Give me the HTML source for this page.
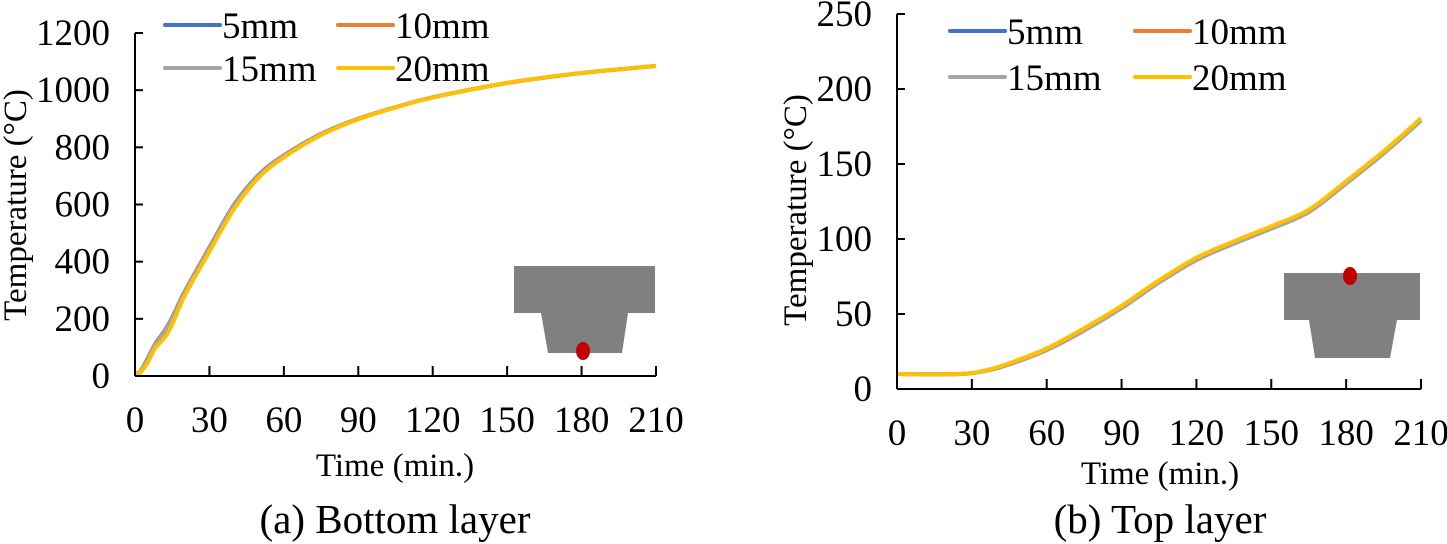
<!DOCTYPE html>
<html><head><meta charset="utf-8"><style>
body{margin:0;background:#fff;}
svg{display:block;font-family:"Liberation Serif",serif;}
</style></head><body>
<svg id="svg" width="1447" height="544"></svg>
<script>
const times=[0,2,5,8,12,15,20,30,40,50,60,75,90,105,120,150,180,210];
const bottom5=[10,15,60,110,160,205,295,450,600,705,772,847,900,940,975,1025,1060,1085];
const bottom10=[10,15,58,108,158,203,293,448,598,703,771,846,900,940,975,1025,1060,1085];
const bottom15=[10,14,56,105,155,200,290,445,595,701,770,845,899,940,975,1025,1060,1085];
const bottom20=[10,12,45,95,135,180,280,435,585,695,765,843,898,939,974,1025,1060,1085];
const topT=[0,25,35,45,60,75,90,105,120,135,150,165,180,195,210];
const top5=[10,10,12,16.5,26,39,54,71,86,97,107,118,137,157,179];
const top10=[10,10,12,16.5,26,39,54,71,86,97,107,118,137,157,179];
const top15=[10,10,12,16.5,26,39,54,71,86,97,107,118,137,157,179];
const top20=[10,10,12.3,17.2,27,40.5,55.5,72.5,87.5,98.5,108.5,119.5,138.5,158.5,180.5];
const xTicks=[0,30,60,90,120,150,180,210];
const yTicksA=[0,200,400,600,800,1000,1200];
const yTicksB=[0,50,100,150,200,250];
const seriesNames=["5mm","10mm","15mm","20mm"];
const colors=["#4472c4","#ed7d31","#a5a5a5","#ffc000"];

const NS="http://www.w3.org/2000/svg";
const svg=document.getElementById('svg');
function mk(tag,attrs,parent){const e=document.createElementNS(NS,tag);for(const k in attrs)e.setAttribute(k,attrs[k]);(parent||svg).appendChild(e);return e;}
function txt(s,x,y,size,anchor,parent){const t=mk('text',{x:x,y:y,'font-size':size,'text-anchor':anchor||'middle',fill:'#000'},parent);t.textContent=s;return t;}
function smooth(pts){
  let d='M'+pts[0][0].toFixed(1)+','+pts[0][1].toFixed(1);
  for(let i=0;i<pts.length-1;i++){
    const p0=pts[Math.max(0,i-1)],p1=pts[i],p2=pts[i+1],p3=pts[Math.min(pts.length-1,i+2)];
    const c1=[p1[0]+(p2[0]-p0[0])/6,p1[1]+(p2[1]-p0[1])/6];
    const c2=[p2[0]-(p3[0]-p1[0])/6,p2[1]-(p3[1]-p1[1])/6];
    d+=` C${c1[0].toFixed(1)},${c1[1].toFixed(1)} ${c2[0].toFixed(1)},${c2[1].toFixed(1)} ${p2[0].toFixed(1)},${p2[1].toFixed(1)}`;
  }
  return d;
}

function chart(cfg){
  const g=mk('g',{});
  
  
  const sx=v=>cfg.x0+(v-0)/210*(cfg.x1-cfg.x0);
  const sy=v=>cfg.y0-(v/cfg.ymax)*(cfg.y0-cfg.y1);
  const ins=mk('g',{},g);
  
  
  const I=cfg.inset;
  mk('rect',{x:I.rx0,y:I.ry0,width:I.rx1-I.rx0,height:I.ry1-I.ry0,fill:'#808080'},ins);
  mk('polygon',{points:`${I.tx0},${I.ry1} ${I.tx1},${I.ry1} ${I.bx1},${I.by} ${I.bx0},${I.by}`,fill:'#808080'},ins);
  const dot=mk('ellipse',{cx:I.dx,cy:I.dy,rx:7,ry:9,fill:'#c00000'},ins);
  
  
  cfg.series.forEach((vals,i)=>{
    const pts=vals.map((v,j)=>[sx(cfg.t[j]),sy(v)]);
    const p=mk('path',{d:smooth(pts),fill:'none',stroke:colors[i],'stroke-width':4,'stroke-linejoin':'round'},g);
    
    
  });
  const ax=mk('g',{stroke:'#000','stroke-width':2},g);
  
  
  mk('line',{x1:cfg.x0,y1:cfg.y0,x2:cfg.x1,y2:cfg.y0},ax);
  mk('line',{x1:cfg.x0,y1:cfg.y0,x2:cfg.x0,y2:sy(cfg.ymax)},ax);
  xTicks.forEach(v=>{mk('line',{x1:sx(v),y1:cfg.y0,x2:sx(v),y2:cfg.y0-10},ax);
    const t=txt(String(v),sx(v),cfg.y0+56,37,'middle',g);
    
    });
  cfg.yTicks.forEach(v=>{mk('line',{x1:cfg.x0,y1:sy(v),x2:cfg.x0+8,y2:sy(v)},ax);
    const t=txt(String(v),cfg.x0-25,sy(v)+12,37,'end',g);
    
    });
  const xt=txt('Time (min.)',cfg.xtX,cfg.xtY,33,'middle',g);
  
  
  const yt=txt('Temperature (°C)',0,0,33,'middle',g);
  yt.setAttribute('transform',`translate(${cfg.ytX},${cfg.ytY}) rotate(-90)`);
  
  
  const cap=txt(cfg.caption,cfg.xtX,cfg.capY,41,'middle',g);
  
  
  const L=cfg.legend;
  seriesNames.forEach((n,i)=>{
    const lx=L.x[i%2], ly=L.y[Math.floor(i/2)];
    const le=mk('g',{},g);
    
    
    mk('line',{x1:lx,y1:ly,x2:lx+55,y2:ly,stroke:colors[i],'stroke-width':4,'stroke-linecap':'round'},le);
    txt(n,lx+57,ly+13,37,'start',le);
  });
}
chart({name:'chart-bottom-layer',caption:'(a) Bottom layer',x0:135,x1:656,y0:376,y1:33,ymax:1200,yTicks:yTicksA,t:times,
  series:[bottom5,bottom10,bottom15,bottom20],xtX:395,xtY:476,ytX:26,ytY:205,capY:533,
  legend:{x:[165,338],y:[25,68]},
  inset:{rx0:514,rx1:655,ry0:266,ry1:313,tx0:541,tx1:628,bx0:548,bx1:622,by:353,dx:583,dy:351}});
chart({name:'chart-top-layer',caption:'(b) Top layer',x0:897,x1:1421,y0:389,y1:14,ymax:250,yTicks:yTicksB,t:topT,
  series:[top5,top10,top15,top20],xtX:1160,xtY:484,ytX:806,ytY:210,capY:533,
  legend:{x:[950,1135],y:[31,77]},
  inset:{rx0:1284,rx1:1420,ry0:273,ry1:320,tx0:1309,tx1:1397,bx0:1315,bx1:1390,by:358,dx:1350,dy:276}});
</script>
</body></html>
